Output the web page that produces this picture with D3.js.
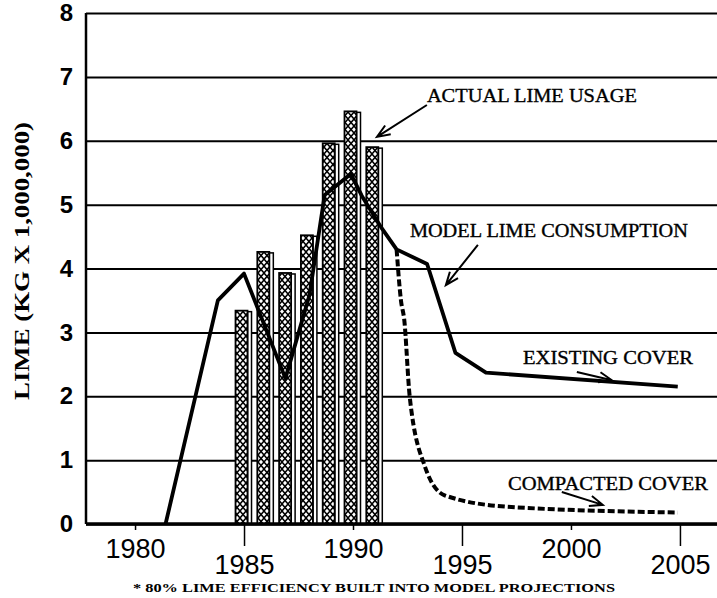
<!DOCTYPE html>
<html>
<head>
<meta charset="utf-8">
<script src="https://cdn.jsdelivr.net/npm/d3@7"></script>
<style>
  body { margin: 0; background: #fff; }
  svg { display: block; }
</style>
</head>
<body>
<div id="chart-area"></div>
<script>
// ACTUAL LIME USAGE (BARS)
var barYears = [1985, 1986, 1987, 1988, 1989, 1990, 1991];
var barValues = [3.34, 4.26, 3.93, 4.52, 5.96, 6.46, 5.90];

// MODEL LIME CONSUMPTION - EXISTING COVER (SOLID)
var modelYears = [1981.4, 1983.8, 1985, 1986.9, 1988.0, 1988.7, 1989.9, 1990.4, 1991.3, 1992.0, 1993.4, 1994.7, 1996.1, 2004.9];
var modelValues = [0, 3.5, 3.92, 2.28, 3.58, 5.15, 5.48, 5.14, 4.64, 4.3, 4.07, 2.68, 2.37, 2.15];

// COMPACTED COVER (DASHED)
var compactYears = [1992.0, 1992.2, 1992.35, 1992.6, 1993.3, 1994.2, 1997.1, 2004.9];
var compactValues = [4.3, 3.5, 3.2, 2.0, 0.9, 0.45, 0.27, 0.18];

var yTicks = [0, 1, 2, 3, 4, 5, 6, 7, 8];
var xTicks = [1980, 1985, 1990, 1995, 2000, 2005];

var W = 717, H = 598;
var m = { left: 86, right: 717, top: 13, bottom: 524 };

var svg = d3.select("#chart-area")
    .append("svg")
    .attr("width", W)
    .attr("height", H);

var x = d3.scaleLinear().domain([1977.75, 2006.7]).range([m.left, m.right]);
var y = d3.scaleLinear().domain([0, 8]).range([m.bottom, m.top]);

// CROSS HATCH
var defs = svg.append("defs");
var pat = defs.append("pattern")
    .attr("id", "hatch")
    .attr("patternUnits", "userSpaceOnUse")
    .attr("width", 6)
    .attr("height", 7);
pat.append("rect").attr("width", 6).attr("height", 7).attr("fill", "#fff");
pat.append("path")
    .attr("d", "M0,0L6,7M6,0L0,7")
    .attr("stroke", "#000")
    .attr("stroke-width", 1.5);

// GRID + Y AXIS
var yAxisGroup = svg.append("g")
    .attr("transform", "translate(" + m.left + ",0)")
    .call(d3.axisLeft(y)
        .tickValues(yTicks)
        .tickSize(-(m.right - m.left))
        .tickPadding(13)
        .tickFormat(d3.format("d")));
yAxisGroup.select(".domain").remove();
yAxisGroup.selectAll(".tick line")
    .attr("stroke", "#000")
    .attr("stroke-width", 2);
yAxisGroup.selectAll(".tick text")
    .attr("font-family", "Liberation Sans, Arial, sans-serif")
    .attr("font-size", "24px")
    .attr("font-weight", "bold")
    .attr("fill", "#000");

svg.append("line")
    .attr("x1", m.left).attr("x2", m.left)
    .attr("y1", m.top).attr("y2", m.bottom)
    .attr("stroke", "#000")
    .attr("stroke-width", 2.5);

// X AXIS
var xAxisGroup = svg.append("g")
    .attr("transform", "translate(0," + m.bottom + ")")
    .call(d3.axisBottom(x)
        .tickValues(xTicks)
        .tickSize(0)
        .tickFormat(d3.format("d")));
xAxisGroup.select(".domain").remove();
xAxisGroup.selectAll(".tick line")
    .attr("stroke", "#000")
    .attr("stroke-width", 1.5)
    .attr("y2", function (d, i) { return i % 2 ? 22 : 6 });
xAxisGroup.selectAll(".tick text")
    .attr("font-family", "Liberation Sans, Arial, sans-serif")
    .attr("font-size", "27px")
    .attr("fill", "#000")
    .attr("dy", null)
    .attr("y", function (d, i) { return i % 2 ? 50 : 34 });

// BARS
var bars = svg.selectAll("g.bar")
    .data(barYears.map(function (d, i) { return { year: d, value: barValues[i] } }))
    .enter()
    .append("g")
    .attr("class", "bar");

bars.append("rect")
    .attr("x", function (d) { return x(d.year) + 3.5 })
    .attr("y", function (d) { return y(d.value) + 1 })
    .attr("width", 4)
    .attr("height", function (d) { return m.bottom - y(d.value) - 1 })
    .attr("fill", "#fff")
    .attr("stroke", "#000")
    .attr("stroke-width", 1.5);

bars.append("rect")
    .attr("x", function (d) { return x(d.year) - 8.5 })
    .attr("y", function (d) { return y(d.value) })
    .attr("width", 12)
    .attr("height", function (d) { return m.bottom - y(d.value) })
    .attr("fill", "url(#hatch)")
    .attr("stroke", "#000")
    .attr("stroke-width", 1.8);

// X BASELINE
svg.append("line")
    .attr("x1", m.left).attr("x2", m.right)
    .attr("y1", m.bottom).attr("y2", m.bottom)
    .attr("stroke", "#000")
    .attr("stroke-width", 3.5);

// LINES
var solid = d3.line()
    .x(function (d) { return x(d[0]) })
    .y(function (d) { return y(d[1]) });

svg.append("path")
    .datum(modelYears.map(function (d, i) { return [d, modelValues[i]] }))
    .attr("d", solid)
    .attr("fill", "none")
    .attr("stroke", "#000")
    .attr("stroke-width", 3.8)
    .attr("stroke-linejoin", "round");

var dashed = d3.line()
    .curve(d3.curveMonotoneX)
    .x(function (d) { return x(d[0]) })
    .y(function (d) { return y(d[1]) });

svg.append("path")
    .datum(compactYears.map(function (d, i) { return [d, compactValues[i]] }))
    .attr("d", dashed)
    .attr("fill", "none")
    .attr("stroke", "#000")
    .attr("stroke-width", 4)
    .attr("stroke-dasharray", "7,3");

// ANNOTATIONS
var notes = [
    { text: "ACTUAL LIME USAGE", year: 1993.39, value: 6.72, len: 210, from: [1993.39, 6.56], to: [1991.1, 6.06] },
    { text: "MODEL LIME CONSUMPTION", year: 1992.61, value: 4.60, len: 278, from: [1995.73, 4.37], to: [1994.26, 3.74] },
    { text: "EXISTING COVER", year: 1997.8, value: 2.61, len: 170, from: [2000.27, 2.38], to: [2001.88, 2.25] },
    { text: "COMPACTED COVER", year: 1997.11, value: 0.64, len: 200, from: [1999.58, 0.50], to: [2001.46, 0.30] }
];

svg.selectAll("text.note")
    .data(notes)
    .enter()
    .append("text")
    .attr("class", "note")
    .attr("x", function (d) { return x(d.year) })
    .attr("y", function (d) { return y(d.value) + 7 })
    .attr("textLength", function (d) { return d.len })
    .attr("lengthAdjust", "spacingAndGlyphs")
    .attr("font-family", "Liberation Serif, Times New Roman, serif")
    .attr("font-size", "19px")
    .attr("fill", "#000")
    .attr("stroke", "#000")
    .attr("stroke-width", 0.35)
    .text(function (d) { return d.text });

function arrowPath(d) {
    var x1 = x(d.from[0]), y1 = y(d.from[1]);
    var x2 = x(d.to[0]), y2 = y(d.to[1]);
    var a = Math.atan2(y1 - y2, x1 - x2);
    var L = 14, s = 0.38;
    return "M" + x1 + "," + y1 + "L" + x2 + "," + y2 +
        "M" + (x2 + L * Math.cos(a + s)) + "," + (y2 + L * Math.sin(a + s)) +
        "L" + x2 + "," + y2 +
        "L" + (x2 + L * Math.cos(a - s)) + "," + (y2 + L * Math.sin(a - s));
}

svg.selectAll("path.arrow")
    .data(notes)
    .enter()
    .append("path")
    .attr("class", "arrow")
    .attr("d", arrowPath)
    .attr("fill", "none")
    .attr("stroke", "#000")
    .attr("stroke-width", 2);

// Y LABEL
svg.append("text")
    .attr("transform", "translate(29,261) rotate(-90)")
    .attr("text-anchor", "middle")
    .attr("textLength", 278)
    .attr("lengthAdjust", "spacingAndGlyphs")
    .attr("font-family", "Liberation Serif, Times New Roman, serif")
    .attr("font-size", "20px")
    .attr("font-weight", "bold")
    .attr("fill", "#000")
    .text("LIME (KG X 1,000,000)");

// FOOTNOTE
svg.append("text")
    .attr("x", 133)
    .attr("y", 592)
    .attr("textLength", 482)
    .attr("lengthAdjust", "spacingAndGlyphs")
    .attr("font-family", "Liberation Serif, Times New Roman, serif")
    .attr("font-size", "12.5px")
    .attr("font-weight", "bold")
    .attr("fill", "#000")
    .text("* 80% LIME EFFICIENCY BUILT INTO MODEL PROJECTIONS");
</script>
</body>
</html>
